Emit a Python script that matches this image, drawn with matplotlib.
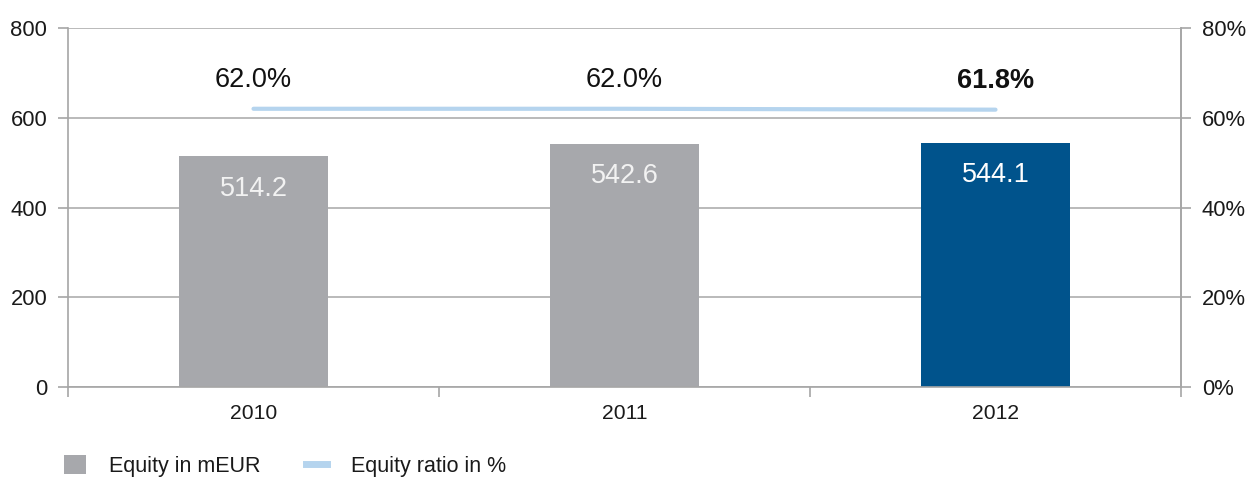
import matplotlib
matplotlib.use("Agg")
import matplotlib.pyplot as plt
from matplotlib.patches import Patch
from matplotlib.lines import Line2D
import numpy as np

plt.rcParams['font.family'] = ['Liberation Sans', 'DejaVu Sans']

years = ["2010", "2011", "2012"]
equity = [514.2, 542.6, 544.1]
ratio = [62.0, 62.0, 61.8]
equity_labels = ["514.2", "542.6", "544.1"]
ratio_labels = ["62.0%", "62.0%", "61.8%"]

grey = "#A7A8AC"
blue = "#00538C"
lightblue = "#B5D4EE"
axis_grey = "#A6A6A6"

fig = plt.figure(figsize=(12.49, 4.78), dpi=100)
ax = fig.add_axes([68/1249, 1-387/478, (1181-68)/1249, (387-28)/478])
x = np.arange(len(years))
colors = [grey, grey, blue]
ax.bar(x, equity, width=0.4, color=colors, zorder=2)
ax.set_xlim(-0.5, 2.5)
ax.set_ylim(0, 800)
ax.set_yticks([0, 200, 400, 600, 800])
ax.yaxis.grid(True, color="#B4B4B4", linewidth=1.3, zorder=0)
ax.set_axisbelow(True)
ax.spines["top"].set_visible(False)
for s in ["left", "bottom", "right"]:
    ax.spines[s].set_color(axis_grey)
    ax.spines[s].set_linewidth(1.2)
ax.tick_params(axis='y', colors=axis_grey, labelcolor="#1a1a1a", labelsize=15.8, length=7, width=1.2, pad=8)
ax.set_xticks(x)
ax.set_xticklabels(years)
ax.tick_params(axis='x', length=0, labelsize=15.2, labelcolor="#1a1a1a", pad=12)
ax.set_xticks([-0.5, 0.5, 1.5, 2.5], minor=True)
ax.tick_params(axis='x', which='minor', length=7, width=1.2, color=axis_grey)

for xi, v, lab, c in zip(x, equity, equity_labels, colors):
    ax.text(xi, v - 72, lab, ha='center', va='center', fontsize=19.5,
            color="white" if c == blue else "#F2F2F2")

ax2 = ax.twinx()
ax2.set_ylim(0, 80)
ax2.set_yticks([0, 20, 40, 60, 80])
ax2.set_yticklabels(["0%", "20%", "40%", "60%", "80%"])
ax2.plot(x, ratio, color=lightblue, linewidth=3, solid_capstyle='round', zorder=3)
for s in ["top", "left", "bottom"]:
    ax2.spines[s].set_visible(False)
ax2.spines["right"].set_color(axis_grey)
ax2.spines["right"].set_linewidth(1.2)
ax2.tick_params(axis='y', colors=axis_grey, labelcolor="#1a1a1a", labelsize=15.8, length=7, width=1.2, pad=8)
for i, (xi, v, lab) in enumerate(zip(x, ratio, ratio_labels)):
    ax2.text(xi, v + 6.5, lab, ha='center', va='center', fontsize=19.5,
             color="#111111", fontweight='bold' if i == 2 else 'normal')

handles = [Patch(facecolor=grey, edgecolor='none'),
           Line2D([0], [0], color=lightblue, linewidth=5)]
fig.legend(handles, ["Equity in mEUR", "Equity ratio in %"], loc='center left',
           bbox_to_anchor=(64/1249, 1-466/478), ncol=2, frameon=False, fontsize=15.5,
           handlelength=1.0, handleheight=1.0, columnspacing=2.1, handletextpad=1.1,
           borderpad=0, borderaxespad=0, labelcolor="#1a1a1a")

fig.savefig("out.png", dpi=100)
